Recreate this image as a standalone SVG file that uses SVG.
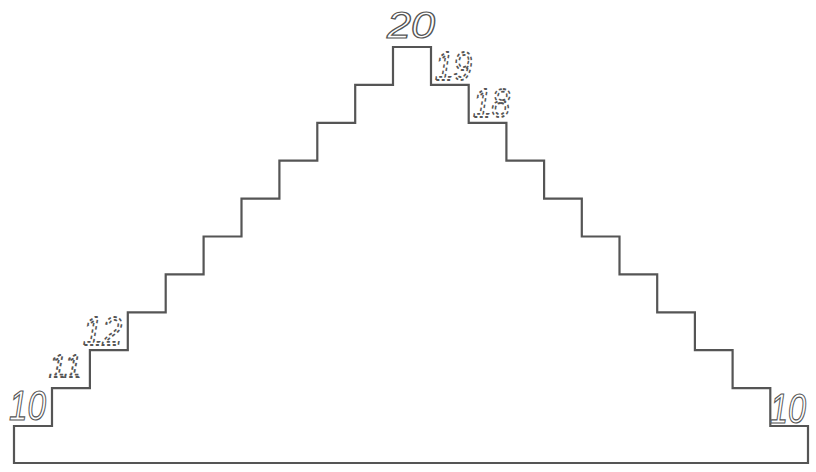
<svg xmlns="http://www.w3.org/2000/svg" width="816" height="472" viewBox="0 0 816 472">
<style>
.stair{fill:none;stroke:#555;stroke-width:2.2;stroke-linejoin:miter}
.num{font-family:"Liberation Sans",Arial,sans-serif;font-style:italic;font-weight:normal;fill:#fff;stroke:#555;stroke-width:1.2}
.dash{font-family:"Liberation Sans",Arial,sans-serif;font-style:italic;fill:none;stroke:#555;stroke-width:1.8;stroke-dasharray:3.5 3}
</style>
<rect width="816" height="472" fill="#fff"/>
<g id="connectors">
<path id="staircase" class="stair" d="M14,426 H52 V388.1 H89.9 V350.2 H127.8 V312.3 H165.7 V274.4 H203.6 V236.5 H241.5 V198.6 H279.4 V160.7 H317.3 V122.8 H355.2 V84.9 H393 V47 H431 V84.9 H468.7 V122.8 H506.4 V160.7 H544.1 V198.6 H581.8 V236.5 H619.5 V274.4 H657.2 V312.3 H694.9 V350.2 H732.6 V388.1 H770.3 V426 H808 V463 H14 Z"/>
</g>
<g id="label-10-left"><text class="num" x="9" y="420" font-size="42" textLength="37" lengthAdjust="spacingAndGlyphs">10</text></g>
<g id="label-11"><text class="dash" x="49" y="377" font-size="32" textLength="33" lengthAdjust="spacingAndGlyphs">11</text></g>
<g id="label-12"><text class="dash" x="83" y="345" font-size="40" textLength="39" lengthAdjust="spacingAndGlyphs">12</text></g>
<g id="label-20"><text class="num" x="387" y="38" font-size="36" textLength="48" lengthAdjust="spacingAndGlyphs">20</text></g>
<g id="label-19"><text class="dash" x="435" y="80" font-size="40" textLength="37" lengthAdjust="spacingAndGlyphs">19</text></g>
<g id="label-18"><text class="dash" x="473" y="117" font-size="40" textLength="37" lengthAdjust="spacingAndGlyphs">18</text></g>
<g id="label-10-right"><text class="num" x="770" y="423" font-size="42" textLength="36" lengthAdjust="spacingAndGlyphs">10</text></g>
</svg>
